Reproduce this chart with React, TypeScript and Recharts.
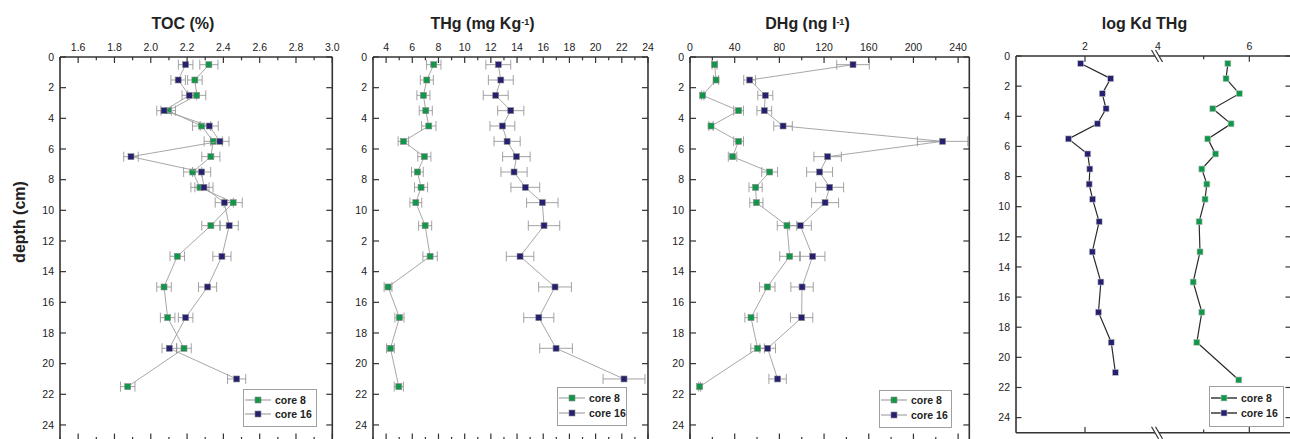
import React from 'react';
import { ScatterChart, Scatter, XAxis, YAxis, ErrorBar, Legend } from 'recharts';

const FONT = '"Liberation Sans", Arial, Helvetica, sans-serif';
const GREEN = '#12964a';
const NAVY = '#25206f';
const FRAME = '#333333';
const TEXT = '#222222';

// ---------- data ----------
const SERIES_NAMES = ['core 8', 'core 16'];
const DEPTH_CORE8 = [0.5, 1.5, 2.5, 3.5, 4.5, 5.5, 6.5, 7.5, 8.5, 9.5, 11, 13, 15, 17, 19, 21.5];
const DEPTH_CORE16 = [0.5, 1.5, 2.5, 3.5, 4.5, 5.5, 6.5, 7.5, 8.5, 9.5, 11, 13, 15, 17, 19, 21];

const TOC_CORE8 = [2.32, 2.243, 2.253, 2.096, 2.28, 2.344, 2.331, 2.231, 2.271, 2.454, 2.331, 2.146, 2.073, 2.093, 2.183, 1.873];
const TOC_CORE16 = [2.192, 2.151, 2.212, 2.073, 2.322, 2.381, 1.891, 2.28, 2.293, 2.405, 2.432, 2.392, 2.313, 2.192, 2.102, 2.473];
const TOC_ERR_CORE8 = [0.05, 0.04, 0.05, 0.04, 0.05, 0.05, 0.05, 0.05, 0.05, 0.05, 0.05, 0.04, 0.04, 0.04, 0.04, 0.04];
const TOC_ERR_CORE16 = [0.04, 0.04, 0.04, 0.04, 0.05, 0.05, 0.04, 0.05, 0.05, 0.05, 0.05, 0.05, 0.05, 0.04, 0.04, 0.05];

const THG_CORE8 = [7.64, 7.11, 6.85, 7.03, 7.26, 5.32, 6.92, 6.39, 6.67, 6.27, 6.98, 7.36, 4.15, 5.02, 4.33, 4.97];
const THG_CORE16 = [12.57, 12.76, 12.37, 13.52, 12.88, 13.24, 13.95, 13.77, 14.63, 15.93, 16.06, 14.23, 16.9, 15.66, 16.98, 22.17];
const THG_ERR_CORE8 = [0.55, 0.5, 0.5, 0.5, 0.55, 0.4, 0.5, 0.45, 0.5, 0.45, 0.5, 0.55, 0.3, 0.35, 0.3, 0.35];
const THG_ERR_CORE16 = [0.95, 0.95, 0.95, 1.0, 0.95, 1.0, 1.05, 1.0, 1.1, 1.2, 1.2, 1.05, 1.25, 1.15, 1.25, 1.6];

const DHG_CORE8 = [22, 23.3, 11.3, 43.5, 18.8, 43.5, 38.1, 71.3, 58.7, 59.4, 86.8, 89.2, 69.2, 54.6, 60.5, 8.6];
const DHG_CORE16 = [145.9, 53.4, 67.4, 66.5, 83.3, 226.1, 123.2, 116, 125, 120.9, 98.7, 109.8, 100.3, 99.9, 69.5, 78.4];
const DHG_ERR_CORE8 = [2.2, 2.3, 1.1, 4.4, 1.9, 4.4, 3.8, 7.1, 5.9, 5.9, 8.7, 8.9, 6.9, 5.5, 6.1, 0.9];
const DHG_ERR_CORE16 = [14.6, 5.3, 6.7, 6.6, 8.3, 22.6, 12.3, 11.6, 12.5, 12.1, 9.9, 11, 10, 10, 7, 7.8];

const KD_CORE8 = [5.53, 5.49, 5.78, 5.2, 5.6, 5.09, 5.26, 4.96, 5.07, 5.03, 4.9, 4.92, 4.77, 4.96, 4.85, 5.77];
const KD_CORE16 = [1.875, 2.745, 2.5, 2.61, 2.36, 1.52, 2.08, 2.14, 2.12, 2.22, 2.41, 2.21, 2.46, 2.39, 2.76, 2.88];

// ---------- ticks ----------
const DEPTH_TICKS = [0, 2, 4, 6, 8, 10, 12, 14, 16, 18, 20, 22, 24];
const DEPTH_LABELS = ['0', '2', '4', '6', '8', '10', '12', '14', '16', '18', '20', '22', '24'];
const THG_DEPTH_LABELS = ['0', '2', '4', '6', '8', '10', '2', '4', '16', '18', '20', '22', '24'];

const TOC_MAJOR = [1.6, 1.8, 2.0, 2.2, 2.4, 2.6, 2.8, 3.0];
const TOC_MAJOR_LABELS = ['1.6', '1.8', '2.0', '2.2', '2.4', '2.6', '2.8', '3.0'];
const TOC_MINOR = [1.5, 1.7, 1.9, 2.1, 2.3, 2.5, 2.7, 2.9];
const THG_MAJOR = [4, 6, 8, 10, 12, 14, 16, 18, 20, 22, 24];
const THG_MAJOR_LABELS = ['4', '6', '8', '10', '12', '14', '16', '18', '20', '22', '24'];
const THG_MINOR = [3, 5, 7, 9, 11, 13, 15, 17, 19, 21, 23];
const DHG_MAJOR = [0, 40, 80, 120, 160, 200, 240];
const DHG_MAJOR_LABELS = ['0', '40', '80', '120', '160', '200', '240'];
const DHG_MINOR = [20, 60, 100, 140, 180, 220];
const KD_LEFT_MAJOR = [2];
const KD_LEFT_LABELS = ['2'];
const KD_RIGHT_MAJOR = [4, 6];
const KD_RIGHT_LABELS = ['4', '6'];
const KD_RIGHT_MINOR = [5];
const KD_BREAK = 4;

type Row = { d: number; v: number; e: number };
const rows = (depths: number[], vals: number[], errs?: number[]): Row[] =>
  depths.map((d, i) => ({ d, v: vals[i], e: errs ? errs[i] : 0 }));

// ---------- ticks renderer ----------
type TickCfg = {
  side: 'top' | 'bottom' | 'left' | 'right';
  major: number[];
  labels?: string[];
  majorLen: number;
  minorLen: number;
  gap: number;
  fontSize: number;
  breakAt?: number;
};

const breakMark = (x: number, y: number) => (
  <g>
    <polygon points={`${x - 6.5},${y - 6} ${x - 2.5},${y - 6} ${x + 4.5},${y + 6} ${x + 0.5},${y + 6}`} fill="#fff" />
    <line x1={x - 6.5} y1={y - 6} x2={x + 0.5} y2={y + 6} stroke={FRAME} strokeWidth={1.2} />
    <line x1={x - 2.5} y1={y - 6} x2={x + 4.5} y2={y + 6} stroke={FRAME} strokeWidth={1.2} />
  </g>
);

const makeTick = (cfg: TickCfg) => (p: any) => {
  const v: number = p.payload.value;
  const x: number = p.x;
  const y: number = p.y;
  const mi = cfg.major.indexOf(v);
  const isMajor = mi >= 0;
  const len = isMajor ? cfg.majorLen : cfg.minorLen;
  const label = cfg.labels && isMajor ? cfg.labels[mi] : '';
  const ts = { fontFamily: FONT, fontSize: cfg.fontSize, fill: TEXT } as React.CSSProperties;
  const ls = { stroke: FRAME, strokeWidth: 1.2 };
  if (cfg.breakAt === v) {
    return (
      <g>
        {breakMark(x, y)}
        {label && cfg.side === 'top' ? (
          <text x={x} y={y - cfg.gap} textAnchor="middle" style={ts}>{label}</text>
        ) : null}
      </g>
    );
  }
  if (cfg.side === 'top') {
    return (
      <g>
        <line x1={x} x2={x} y1={y} y2={y + len} {...ls} />
        {label ? <text x={x} y={y - cfg.gap} textAnchor="middle" style={ts}>{label}</text> : null}
      </g>
    );
  }
  if (cfg.side === 'bottom') {
    return <line x1={x} x2={x} y1={y} y2={y - len} {...ls} />;
  }
  if (cfg.side === 'left') {
    return (
      <g>
        <line x1={x} x2={x + len} y1={y} y2={y} {...ls} />
        {label ? <text x={x - cfg.gap} y={y} dy="0.36em" textAnchor="end" style={ts}>{label}</text> : null}
      </g>
    );
  }
  return <line x1={x} x2={x - len} y1={y} y2={y} {...ls} />;
};

// ---------- legend ----------
const makeLegend = (lineColor: string, lineWidth: number, markerStroke: string, w: number, h: number, padTop: number) =>
  (props: any) => {
    const items = [...(props.payload || [])].sort(
      (a: any, b: any) => SERIES_NAMES.indexOf(a.value) - SERIES_NAMES.indexOf(b.value)
    );
    return (
      <div
        style={{
          boxSizing: 'border-box',
          width: w,
          height: h,
          border: '1px solid #a0a0a0',
          background: '#fff',
          paddingTop: padTop,
          paddingLeft: 1,
          fontFamily: FONT,
          whiteSpace: 'nowrap',
        }}
      >
        {items.map((it: any) => (
          <div key={it.value} style={{ display: 'flex', alignItems: 'center', height: 14.3 }}>
            <svg width={26} height={8} style={{ display: 'block', flex: 'none' }}>
              <line x1={0} y1={4} x2={26} y2={4} stroke={lineColor} strokeWidth={lineWidth} />
              <rect x={10} y={1} width={6} height={6} fill={it.color} stroke={markerStroke} strokeWidth={0.6} />
            </svg>
            <span style={{ marginLeft: 4, fontSize: 10.5, fontWeight: 700, color: TEXT, lineHeight: '12px' }}>{it.value}</span>
          </div>
        ))}
      </div>
    );
  };

// ---------- panel ----------
type XAxisDef = {
  id: string;
  orientation: 'top' | 'bottom';
  domain: [number, number];
  major: number[];
  minor: number[];
  labels?: string[];
  axisLine: boolean;
  breakAt?: number;
  majorLen: number;
  minorLen: number;
};
type SeriesDef = { name: string; data: Row[]; color: string; xAxisId: string; err: boolean };
type PanelProps = {
  left: number;
  width: number;
  height: number;
  margin: { top: number; right: number; bottom: number; left: number };
  xAxes: XAxisDef[];
  yLabels: string[];
  yLen: number;
  series: SeriesDef[];
  lineStroke: string;
  lineWidth: number;
  markerStroke: string;
  legendBox: { left: number; top: number; width: number; height: number; padTop: number };
};

const AXIS_LINE = { stroke: FRAME, strokeWidth: 1.6 };
const THIN = 0.01;

function Panel(pp: PanelProps) {
  return (
    <div style={{ position: 'absolute', left: pp.left, top: 0 }}>
      <ScatterChart width={pp.width} height={pp.height} margin={pp.margin}>
        {pp.xAxes.map((a) => (
          <XAxis
            key={a.id}
            xAxisId={a.id}
            orientation={a.orientation}
            type="number"
            dataKey="v"
            domain={a.domain}
            allowDataOverflow
            ticks={[...a.major, ...a.minor]}
            interval={0}
            height={THIN}
            tickSize={0}
            tickMargin={0}
            tickLine={false}
            axisLine={a.axisLine ? AXIS_LINE : false}
            tick={makeTick({
              side: a.orientation,
              major: a.major,
              labels: a.labels,
              majorLen: a.majorLen,
              minorLen: a.minorLen,
              gap: 6.5,
              fontSize: 10.5,
              breakAt: a.breakAt,
            })}
          />
        ))}
        <YAxis
          yAxisId="depth"
          orientation="left"
          type="number"
          dataKey="d"
          domain={[0, 25]}
          reversed
          allowDataOverflow
          ticks={DEPTH_TICKS}
          interval={0}
          width={THIN}
          tickSize={0}
          tickMargin={0}
          tickLine={false}
          axisLine={AXIS_LINE}
          tick={makeTick({ side: 'left', major: DEPTH_TICKS, labels: pp.yLabels, majorLen: pp.yLen, minorLen: 3, gap: 6, fontSize: 10.5 })}
        />
        <YAxis
          yAxisId="depthR"
          orientation="right"
          type="number"
          dataKey="d"
          domain={[0, 25]}
          reversed
          allowDataOverflow
          ticks={DEPTH_TICKS}
          interval={0}
          width={THIN}
          tickSize={0}
          tickMargin={0}
          tickLine={false}
          axisLine={AXIS_LINE}
          tick={makeTick({ side: 'right', major: DEPTH_TICKS, majorLen: pp.yLen, minorLen: 3, gap: 6, fontSize: 10.5 })}
        />
        {pp.series.map((s) => (
          <Scatter
            key={s.name}
            name={s.name}
            data={s.data}
            xAxisId={s.xAxisId}
            yAxisId="depth"
            fill={s.color}
            line={{ stroke: pp.lineStroke, strokeWidth: pp.lineWidth }}
            lineType="joint"
            isAnimationActive={false}
            shape={(p: any) => (
              <rect x={p.cx - 3} y={p.cy - 3} width={6} height={6} fill={s.color} stroke={pp.markerStroke} strokeWidth={0.6} />
            )}
          >
            {s.err ? (
              <ErrorBar dataKey="e" direction="x" width={5} stroke="#8c8c8c" strokeWidth={0.8} isAnimationActive={false} />
            ) : null}
          </Scatter>
        ))}
        <Legend
          layout="horizontal"
          verticalAlign="middle"
          align="center"
          wrapperStyle={{ left: pp.legendBox.left, top: pp.legendBox.top, width: pp.legendBox.width }}
          content={makeLegend(pp.lineStroke, pp.lineWidth + 0.2, pp.markerStroke, pp.legendBox.width, pp.legendBox.height, pp.legendBox.padTop)}
        />
      </ScatterChart>
    </div>
  );
}

const titleStyle = (cx: number): React.CSSProperties => ({
  position: 'absolute',
  left: cx - 100,
  top: 15.8,
  width: 200,
  textAlign: 'center',
  fontFamily: FONT,
  fontWeight: 700,
  fontSize: 16,
  lineHeight: '16px',
  color: TEXT,
  whiteSpace: 'nowrap',
});
const supStyle: React.CSSProperties = { fontSize: 9, verticalAlign: 'top', position: 'relative', top: -2 };

export default function App() {
  const m13 = { top: 57, bottom: 9.7 };
  const std = (id: string, domain: [number, number], major: number[], minor: number[], labels: string[]): XAxisDef[] => [
    { id, orientation: 'top', domain, major, minor, labels, axisLine: true, majorLen: 6, minorLen: 3.3 },
    { id: id + 'B', orientation: 'bottom', domain, major, minor, axisLine: true, majorLen: 6.7, minorLen: 3.3 },
  ];
  return (
    <div style={{ position: 'absolute', left: 0, top: 0, width: 1290, height: 439, overflow: 'hidden', background: '#fff' }}>
      <Panel
        left={0}
        width={340}
        height={450}
        margin={{ ...m13, left: 60, right: 7.7 }}
        xAxes={std('x', [1.5, 3.0], TOC_MAJOR, TOC_MINOR, TOC_MAJOR_LABELS)}
        yLabels={DEPTH_LABELS}
        yLen={6}
        series={[
          { name: SERIES_NAMES[0], data: rows(DEPTH_CORE8, TOC_CORE8, TOC_ERR_CORE8), color: GREEN, xAxisId: 'x', err: true },
          { name: SERIES_NAMES[1], data: rows(DEPTH_CORE16, TOC_CORE16, TOC_ERR_CORE16), color: NAVY, xAxisId: 'x', err: true },
        ]}
        lineStroke="#9d9d9d"
        lineWidth={0.9}
        markerStroke="#8a8a8a"
        legendBox={{ left: 243, top: 389, width: 74, height: 38, padTop: 3 }}
      />
      <Panel
        left={340}
        width={320}
        height={450}
        margin={{ ...m13, left: 33, right: 12 }}
        xAxes={std('x', [3, 24], THG_MAJOR, THG_MINOR, THG_MAJOR_LABELS)}
        yLabels={THG_DEPTH_LABELS}
        yLen={6}
        series={[
          { name: SERIES_NAMES[0], data: rows(DEPTH_CORE8, THG_CORE8, THG_ERR_CORE8), color: GREEN, xAxisId: 'x', err: true },
          { name: SERIES_NAMES[1], data: rows(DEPTH_CORE16, THG_CORE16, THG_ERR_CORE16), color: NAVY, xAxisId: 'x', err: true },
        ]}
        lineStroke="#9d9d9d"
        lineWidth={0.9}
        markerStroke="#8a8a8a"
        legendBox={{ left: 217, top: 387, width: 70, height: 39, padTop: 3.2 }}
      />
      <Panel
        left={660}
        width={320}
        height={450}
        margin={{ ...m13, left: 30, right: 10.7 }}
        xAxes={std('x', [0, 250], DHG_MAJOR, DHG_MINOR, DHG_MAJOR_LABELS)}
        yLabels={DEPTH_LABELS}
        yLen={6}
        series={[
          { name: SERIES_NAMES[0], data: rows(DEPTH_CORE8, DHG_CORE8, DHG_ERR_CORE8), color: GREEN, xAxisId: 'x', err: true },
          { name: SERIES_NAMES[1], data: rows(DEPTH_CORE16, DHG_CORE16, DHG_ERR_CORE16), color: NAVY, xAxisId: 'x', err: true },
        ]}
        lineStroke="#9d9d9d"
        lineWidth={0.9}
        markerStroke="#8a8a8a"
        legendBox={{ left: 219, top: 390, width: 73, height: 38, padTop: 2.2 }}
      />
      <Panel
        left={980}
        width={320}
        height={450}
        margin={{ top: 56, bottom: 17.3, left: 36, right: 9 }}
        xAxes={[
          { id: 'L', orientation: 'top', domain: [0, 7.971], major: KD_LEFT_MAJOR, minor: [], labels: KD_LEFT_LABELS, axisLine: false, majorLen: 5.7, minorLen: 3.3 },
          { id: 'R', orientation: 'top', domain: [0.889, 6.913], major: KD_RIGHT_MAJOR, minor: KD_RIGHT_MINOR, labels: KD_RIGHT_LABELS, axisLine: true, breakAt: KD_BREAK, majorLen: 5.7, minorLen: 3.3 },
          { id: 'LB', orientation: 'bottom', domain: [0, 7.971], major: KD_LEFT_MAJOR, minor: [], axisLine: false, majorLen: 5.7, minorLen: 3.3 },
          { id: 'RB', orientation: 'bottom', domain: [0.889, 6.913], major: KD_RIGHT_MAJOR, minor: KD_RIGHT_MINOR, axisLine: true, breakAt: KD_BREAK, majorLen: 5.7, minorLen: 3.3 },
        ]}
        yLabels={DEPTH_LABELS}
        yLen={5.5}
        series={[
          { name: SERIES_NAMES[0], data: rows(DEPTH_CORE8, KD_CORE8), color: GREEN, xAxisId: 'R', err: false },
          { name: SERIES_NAMES[1], data: rows(DEPTH_CORE16, KD_CORE16), color: NAVY, xAxisId: 'L', err: false },
        ]}
        lineStroke="#2a2a2a"
        lineWidth={1.2}
        markerStroke="#c8c8c8"
        legendBox={{ left: 229, top: 386, width: 75, height: 41, padTop: 4.2 }}
      />

      <div style={titleStyle(183)}>TOC (%)</div>
      <div style={titleStyle(482.5)}>
        THg (mg Kg<span style={supStyle}>-1</span>)
      </div>
      <div style={titleStyle(807.5)}>
        DHg (ng l<span style={supStyle}>-1</span>)
      </div>
      <div style={titleStyle(1144.5)}>log Kd THg</div>
      <div
        style={{
          position: 'absolute',
          left: -50,
          top: 214,
          width: 140,
          height: 16,
          lineHeight: '16px',
          textAlign: 'center',
          fontFamily: FONT,
          fontWeight: 700,
          fontSize: 16,
          color: TEXT,
          transform: 'rotate(-90deg)',
          whiteSpace: 'nowrap',
        }}
      >
        depth (cm)
      </div>
    </div>
  );
}
